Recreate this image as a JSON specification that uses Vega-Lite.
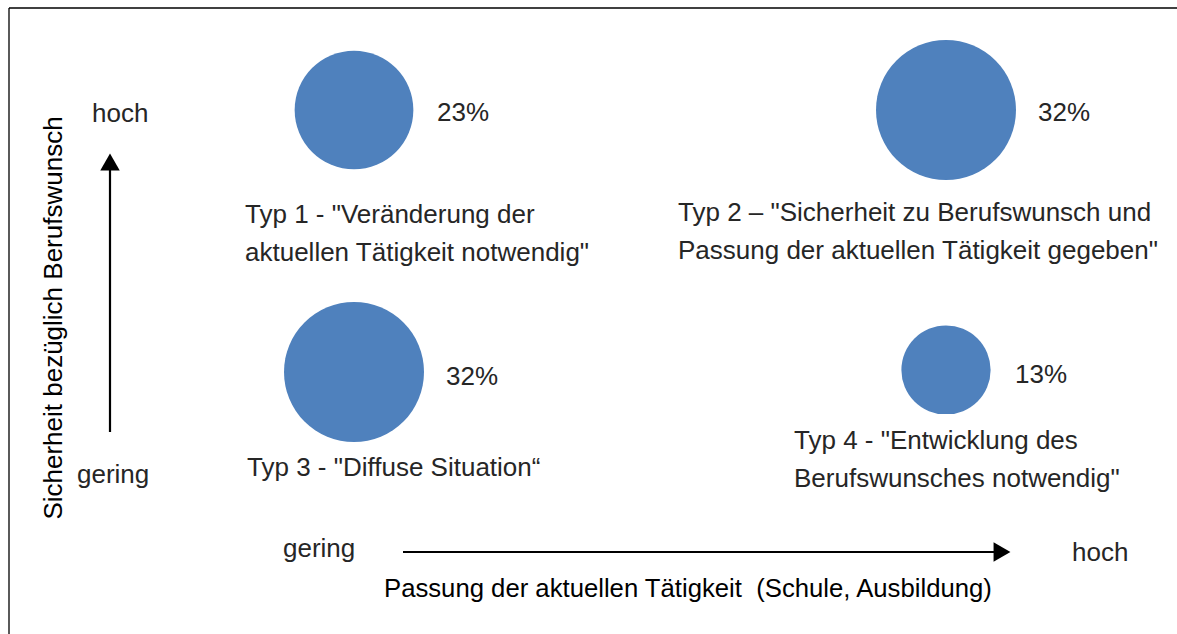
{
  "$schema": "https://vega.github.io/schema/vega-lite/v6.json",
  "width": 1177,
  "height": 634,
  "padding": 0,
  "autosize": {"type": "none"},
  "background": "white",
  "config": {"view": {"stroke": null}, "font": "Liberation Sans"},
  "datasets": {
    "frame": [
      {"x": 9, "y": 8, "x2": 1177, "y2": 8},
      {"x": 9, "y": 8, "x2": 9, "y2": 634}
    ],
    "arrows": [
      {"x": 110, "y": 432, "x2": 110, "y2": 164},
      {"x": 403, "y": 552, "x2": 998, "y2": 552}
    ],
    "heads": [
      {"x": 110, "y": 162, "dir": "up"},
      {"x": 1002, "y": 552, "dir": "right"}
    ],
    "bubbles": [
      {"typ": "Typ 1", "x": 354, "y": 110, "anteil": 23},
      {"typ": "Typ 2", "x": 946, "y": 110, "anteil": 32},
      {"typ": "Typ 3", "x": 354, "y": 372, "anteil": 32},
      {"typ": "Typ 4", "x": 946, "y": 370, "anteil": 13}
    ],
    "mask": [
      {"x": 860, "x2": 1150, "y": 414, "y2": 426}
    ],
    "labels": [
      {"x": 92, "y": 122, "text": "hoch"},
      {"x": 77, "y": 483, "text": "gering"},
      {"x": 437, "y": 121, "text": "23%"},
      {"x": 1038, "y": 121, "text": "32%"},
      {"x": 446, "y": 385, "text": "32%"},
      {"x": 1015, "y": 383, "text": "13%"},
      {"x": 245, "y": 223, "text": "Typ 1 - \"Veränderung der\naktuellen Tätigkeit notwendig\""},
      {"x": 678, "y": 221, "text": "Typ 2 – \"Sicherheit zu Berufswunsch und\nPassung der aktuellen Tätigkeit gegeben\""},
      {"x": 247, "y": 476, "text": "Typ 3 - \"Diffuse Situation“"},
      {"x": 794, "y": 449, "text": "Typ 4 - \"Entwicklung des\nBerufswunsches notwendig\""},
      {"x": 283, "y": 557, "text": "gering"},
      {"x": 1072, "y": 561, "text": "hoch"}
    ],
    "xtitle": [
      {"x": 384, "y": 597, "text": "Passung der aktuellen Tätigkeit \u00a0(Schule, Ausbildung)"}
    ],
    "ytitle": [
      {"x": 62, "y": 318, "text": "Sicherheit bezüglich Berufswunsch"}
    ]
  },
  "encoding": {
    "x": {"field": "x", "type": "quantitative", "scale": {"domain": [0, 1177], "nice": false, "zero": false}, "axis": null},
    "y": {"field": "y", "type": "quantitative", "scale": {"domain": [0, 634], "nice": false, "zero": false, "reverse": true}, "axis": null}
  },
  "layer": [
    {
      "data": {"name": "frame"},
      "mark": {"type": "rule", "color": "black", "strokeWidth": 1.3},
      "encoding": {"x2": {"field": "x2"}, "y2": {"field": "y2"}}
    },
    {
      "data": {"name": "bubbles"},
      "mark": {"type": "circle", "color": "#4F81BD", "opacity": 1},
      "encoding": {
        "size": {"field": "anteil", "type": "quantitative", "scale": {"domain": [0, 32], "range": [0, 19600]}, "legend": null}
      }
    },
    {
      "data": {"name": "mask"},
      "mark": {"type": "rect", "color": "white"},
      "encoding": {"x2": {"field": "x2"}, "y2": {"field": "y2"}}
    },
    {
      "data": {"name": "arrows"},
      "mark": {"type": "rule", "color": "black", "strokeWidth": 2.2},
      "encoding": {"x2": {"field": "x2"}, "y2": {"field": "y2"}}
    },
    {
      "data": {"name": "heads"},
      "mark": {"type": "point", "filled": true, "color": "black", "opacity": 1, "size": 380},
      "encoding": {
        "shape": {"field": "dir", "type": "nominal", "scale": {"domain": ["up", "right"], "range": ["triangle-up", "triangle-right"]}, "legend": null}
      }
    },
    {
      "data": {"name": "labels"},
      "mark": {"type": "text", "align": "left", "baseline": "alphabetic", "fontSize": 26, "lineHeight": 38, "lineBreak": "\n", "color": "#262626", "font": "Liberation Sans"},
      "encoding": {"text": {"field": "text"}}
    },
    {
      "data": {"name": "xtitle"},
      "mark": {"type": "text", "align": "left", "baseline": "alphabetic", "fontSize": 25.7, "color": "black", "font": "Liberation Sans"},
      "encoding": {"text": {"field": "text"}}
    },
    {
      "data": {"name": "ytitle"},
      "mark": {"type": "text", "align": "center", "baseline": "alphabetic", "angle": 270, "fontSize": 26, "color": "black", "font": "Liberation Sans"},
      "encoding": {"text": {"field": "text"}}
    }
  ]
}
